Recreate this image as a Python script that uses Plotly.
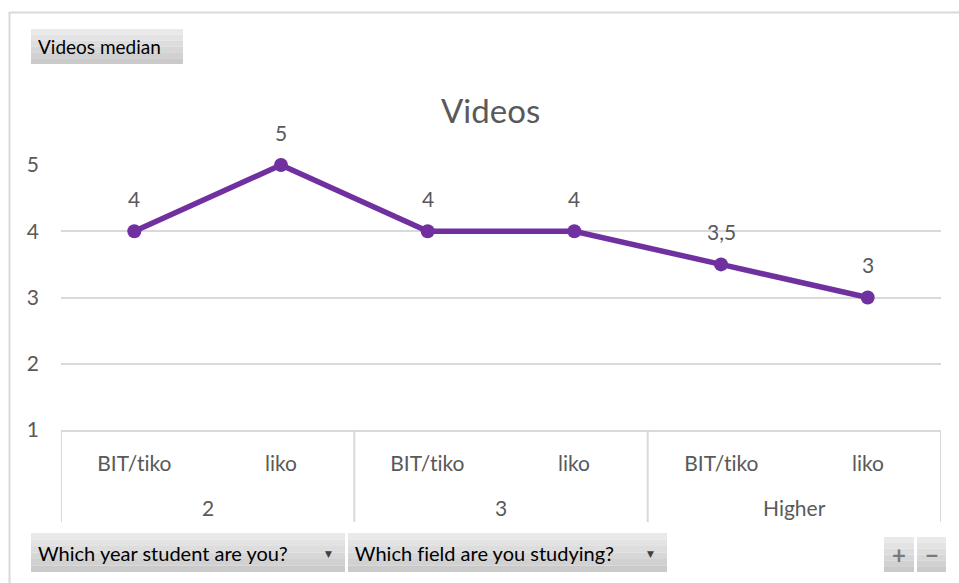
import plotly.graph_objects as go

# ---- data ----
years = ["2", "2", "3", "3", "Higher", "Higher"]
fields = ["BIT/tiko", "liko", "BIT/tiko", "liko", "BIT/tiko", "liko"]
medians = [4, 5, 4, 4, 3.5, 3]
label_text = ["4", "5", "4", "4", "3,5", "3"]
group_names = ["2", "3", "Higher"]
y_ticks = [1, 2, 3, 4, 5]

W, H = 959, 583
L, R, T, B = 61, 941, 165, 430  # plot area in pixels

FONT = "Lato"
GRAY = "#595959"
GRID = "#d9d9d9"
PURPLE = "#7030a0"


def px(x):
    return (x - L) / (R - L)


def py(y):
    return (B - y) / (B - T)


xs = list(range(len(medians)))

fig = go.Figure()
fig.add_trace(go.Scatter(
    x=xs, y=medians, mode="lines+markers",
    line=dict(color=PURPLE, width=5.5),
    marker=dict(color=PURPLE, size=14),
    hoverinfo="skip", showlegend=False, cliponaxis=False,
))

annotations = []
shapes = []

# data labels
for x, y, t in zip(xs, medians, label_text):
    annotations.append(dict(x=x, y=y, xref="x", yref="y", text=t, showarrow=False,
                            yshift=33, font=dict(family=FONT, size=21, color=GRAY)))

# title
annotations.append(dict(x=px(490), y=py(110), xref="paper", yref="paper", text="Videos",
                        showarrow=False, xanchor="center", yanchor="middle",
                        font=dict(family=FONT, size=33, color=GRAY)))

# category axis: field labels
for x, f in zip(xs, fields):
    annotations.append(dict(x=x, y=py(462), xref="x", yref="paper", text=f, showarrow=False,
                            yanchor="middle", font=dict(family=FONT, size=21, color=GRAY)))

# group labels and separators
n_groups = len(group_names)
per = len(xs) // n_groups
for gi, g in enumerate(group_names):
    members = [x for x, yv in zip(xs, years) if yv == g]
    annotations.append(dict(x=sum(members) / len(members), y=py(507), xref="x", yref="paper",
                            text=g, showarrow=False, yanchor="middle",
                            font=dict(family=FONT, size=21, color=GRAY)))
bounds = [-0.5] + [i * per + per - 0.5 for i in range(n_groups)]
for b in bounds:
    shapes.append(dict(type="line", xref="x", yref="paper", x0=b, x1=b, y0=0, y1=py(522),
                       line=dict(color=GRID, width=2)))

# outer chart border (left + top)
shapes.append(dict(type="line", xref="paper", yref="paper", x0=px(9.5), x1=px(9.5),
                   y0=py(12), y1=py(590), line=dict(color=GRID, width=2)))
shapes.append(dict(type="line", xref="paper", yref="paper", x0=px(9.5), x1=px(970),
                   y0=py(12.5), y1=py(12.5), line=dict(color=GRID, width=2)))


def button(x0, y0, x1, y1, text=None, arrow=False, center=False, size=20, color="#000000"):
    bands = ["#e9e9e9", "#e3e3e3", "#dddddd", "#d7d7d7", "#d1d1d1", "#cacaca"]
    h = (y1 - y0) / len(bands)
    for i, c in enumerate(bands):
        shapes.append(dict(type="rect", xref="paper", yref="paper",
                           x0=px(x0), x1=px(x1), y0=py(y0 + i * h), y1=py(y0 + (i + 1) * h),
                           fillcolor=c, line=dict(width=0), layer="above"))
    if text:
        annotations.append(dict(x=px((x0 + x1) / 2 if center else x0 + 5), y=py((y0 + y1) / 2),
                                xref="paper", yref="paper", text=text, showarrow=False,
                                xanchor="center" if center else "left",
                                yanchor="middle", font=dict(family=FONT, size=size, color=color)))
    if arrow:
        annotations.append(dict(x=px(x1 - 17), y=py((y0 + y1) / 2 + 1), xref="paper", yref="paper",
                                text="▼", showarrow=False, xanchor="center", yanchor="middle",
                                font=dict(family="DejaVu Sans", size=9, color="#404040")))


button(31, 29, 183, 64, "Videos median", size=19)
button(31, 533, 345, 572, "Which year student are you?", arrow=True, size=20)
button(348, 533, 667, 572, "Which field are you studying?", arrow=True, size=20)
button(884, 537, 914, 572, "<b>+</b>", center=True, size=24, color="#7a7a7a")
button(917, 537, 946, 572, "<b>−</b>", center=True, size=24, color="#7a7a7a")

fig.update_layout(
    width=W, height=H,
    margin=dict(l=L, r=W - R, t=T, b=H - B, pad=0),
    paper_bgcolor="white", plot_bgcolor="white",
    xaxis=dict(range=[-0.5, len(xs) - 0.5], showgrid=False, zeroline=False,
               showticklabels=False, showline=True, linecolor=GRID, linewidth=2,
               fixedrange=True),
    yaxis=dict(range=[y_ticks[0], y_ticks[-1]], tickvals=y_ticks, showgrid=True,
               gridcolor=GRID, gridwidth=2, zeroline=False, showline=False,
               ticks="", ticklabelstandoff=21,
               tickfont=dict(family=FONT, size=21, color=GRAY), fixedrange=True),
    annotations=annotations, shapes=shapes,
    showlegend=False,
)

post = (
    "document.body.style.margin='0';"
    "document.documentElement.style.overflow='hidden';"
    "var s=document.createElement('style');"
    "s.textContent='text{font-variant-ligatures:none !important;font-feature-settings:\"liga\" 0 !important;}';"
    "document.head.appendChild(s);"
)
fig.write_html("out.html", config={"displayModeBar": False}, post_script=post)
